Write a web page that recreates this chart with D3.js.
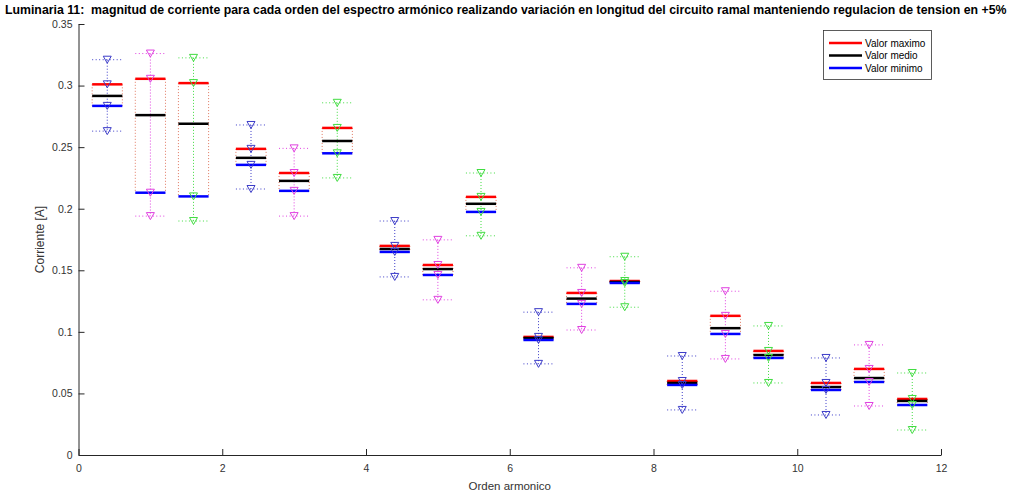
<!DOCTYPE html>
<html><head><meta charset="utf-8">
<script src="https://cdn.jsdelivr.net/npm/d3@7"></script>
<style>body{margin:0;background:#fff}svg{display:block}text{font-family:"Liberation Sans",Arial,sans-serif}</style>
</head><body><svg id="c" width="1016" height="496"></svg>
<script>
const positions = [0.4,1.0,1.6,2.4,3.0,3.6,4.4,5.0,5.6,6.4,7.0,7.6,8.4,9.0,9.6,10.4,11.0,11.6];
const seriesIdx = [0,1,2,0,1,2,0,1,2,0,1,2,0,1,2,0,1,2];
const upperVals = [0.321,0.326,0.3225,0.268,0.249,0.286,0.190,0.1747,0.229,0.116,0.152,0.161,0.0804,0.133,0.1048,0.0788,0.0894,0.0666];
const maxVals   = [0.301,0.3055,0.302,0.2486,0.229,0.2656,0.1698,0.1543,0.2096,0.0959,0.1316,0.1413,0.0601,0.113,0.0845,0.0585,0.0699,0.0455];
const meanVals  = [0.2916,0.276,0.269,0.2413,0.2226,0.255,0.1673,0.151,0.204,0.095,0.127,0.1405,0.0585,0.103,0.0812,0.0552,0.0625,0.0439];
const minVals   = [0.2835,0.213,0.210,0.2356,0.2145,0.245,0.1649,0.1462,0.1974,0.0934,0.1227,0.1397,0.0569,0.0983,0.0788,0.0528,0.0593,0.0406];
const lowerVals = [0.263,0.194,0.190,0.216,0.194,0.225,0.1446,0.126,0.178,0.074,0.1015,0.120,0.0366,0.078,0.0585,0.0325,0.0398,0.0203];
const xTicks = [0,2,4,6,8,10,12];
const yTicks = [0,0.05,0.1,0.15,0.2,0.25,0.3,0.35];
const yTickLabels = ["0","0.05","0.1","0.15","0.2","0.25","0.3","0.35"];
const legendLabels = ["Valor maximo","Valor medio","Valor minimo"];
const legendColors = ["#ff0000","#000000","#0000ff"];
const seriesColors = ["#3c3cc8","#e040e0","#40dc40"];
const titleText = "Luminaria 11:  magnitud de corriente para cada orden del espectro armónico realizando variación en longitud del circuito ramal manteniendo regulacion de tension en +5%";

const svg = d3.select("#c");
const L=78.5, R=941, T=24, B=455;
const x = d3.scaleLinear().domain([0,12]).range([L,R]);
const y = d3.scaleLinear().domain([0,0.35]).range([B,T]);
const hw = 0.21;

// title
const title = svg.append("text").attr("x",5).attr("y",14).attr("font-weight","bold")
  .style("white-space","pre").attr("font-size",12).attr("fill","#000").text(titleText);
const tw = title.node().getComputedTextLength();
title.attr("font-size", 12*1002/tw);

// axes
const xAxis = d3.axisBottom(x).tickValues(xTicks).tickSizeInner(-6).tickSizeOuter(0).tickPadding(10);
const gx = svg.append("g").attr("transform",`translate(0,${B})`).call(xAxis);
const yAxis = d3.axisLeft(y).tickValues(yTicks).tickFormat((d,i)=>yTickLabels[i]).tickSizeInner(-6).tickSizeOuter(0).tickPadding(10);
const gy = svg.append("g").attr("transform",`translate(${L},0)`).call(yAxis);
[gx,gy].forEach(g=>{
  g.selectAll("path.domain").attr("stroke","#262626");
  g.selectAll(".tick line").attr("stroke","#262626");
  g.selectAll(".tick text").attr("fill","#333").attr("font-size",10.5).attr("font-family","'Liberation Sans',Arial,sans-serif");
});
gy.selectAll(".tick text").attr("dx",4);

svg.append("text").attr("x",(L+R)/2).attr("y",490).attr("text-anchor","middle").attr("font-size",11.5).attr("fill","#333").text("Orden armonico");
svg.append("text").attr("transform",`translate(44,${(T+B)/2}) rotate(-90)`).attr("text-anchor","middle").attr("font-size",12).attr("fill","#333").text("Corriente [A]");

const g = svg.append("g");
positions.forEach((p,i)=>{
  const c = seriesColors[seriesIdx[i]];
  const x0=x(p-hw), x1=x(p+hw), xc=x(p);
  [x0,x1].forEach(xx=>g.append("line").attr("x1",xx).attr("x2",xx).attr("y1",y(maxVals[i])).attr("y2",y(minVals[i]))
     .attr("stroke","#e07860").attr("stroke-width",1).attr("stroke-dasharray","1,2"));
  g.append("line").attr("x1",xc).attr("x2",xc).attr("y1",y(upperVals[i])).attr("y2",y(lowerVals[i]))
    .attr("stroke",c).attr("stroke-width",1).attr("stroke-dasharray","1,2");
  [upperVals[i],lowerVals[i]].forEach(v=>g.append("line").attr("x1",x0).attr("x2",x1).attr("y1",y(v)).attr("y2",y(v))
    .attr("stroke",c).attr("stroke-width",1).attr("stroke-dasharray","1,2.5"));
  [[maxVals[i],"#ff0000"],[meanVals[i],"#000"],[minVals[i],"#0000ff"]].forEach(([v,col])=>
    g.append("line").attr("x1",x0).attr("x2",x1).attr("y1",y(v)).attr("y2",y(v)).attr("stroke",col).attr("stroke-width",2.5));
  [upperVals[i],maxVals[i],minVals[i],lowerVals[i]].forEach(v=>{
    const yy=y(v);
    g.append("path").attr("d",`M${xc-4},${yy-3.5}L${xc+4},${yy-3.5}L${xc},${yy+3.5}Z`)
      .attr("fill","none").attr("stroke",c).attr("stroke-width",1);
  });
});

// legend
const lg = svg.append("g");
lg.append("rect").attr("x",823.5).attr("y",30.5).attr("width",108).attr("height",49).attr("fill","#fff").attr("stroke","#333").attr("stroke-width",0.8);
legendLabels.forEach((t,i)=>{
  const yy=43+i*12.5;
  lg.append("line").attr("x1",829).attr("x2",862).attr("y1",yy).attr("y2",yy).attr("stroke",legendColors[i]).attr("stroke-width",2.5);
  lg.append("text").attr("x",865).attr("y",yy+3.5).attr("font-size",10).attr("fill","#000").text(t);
});
</script></body></html>
